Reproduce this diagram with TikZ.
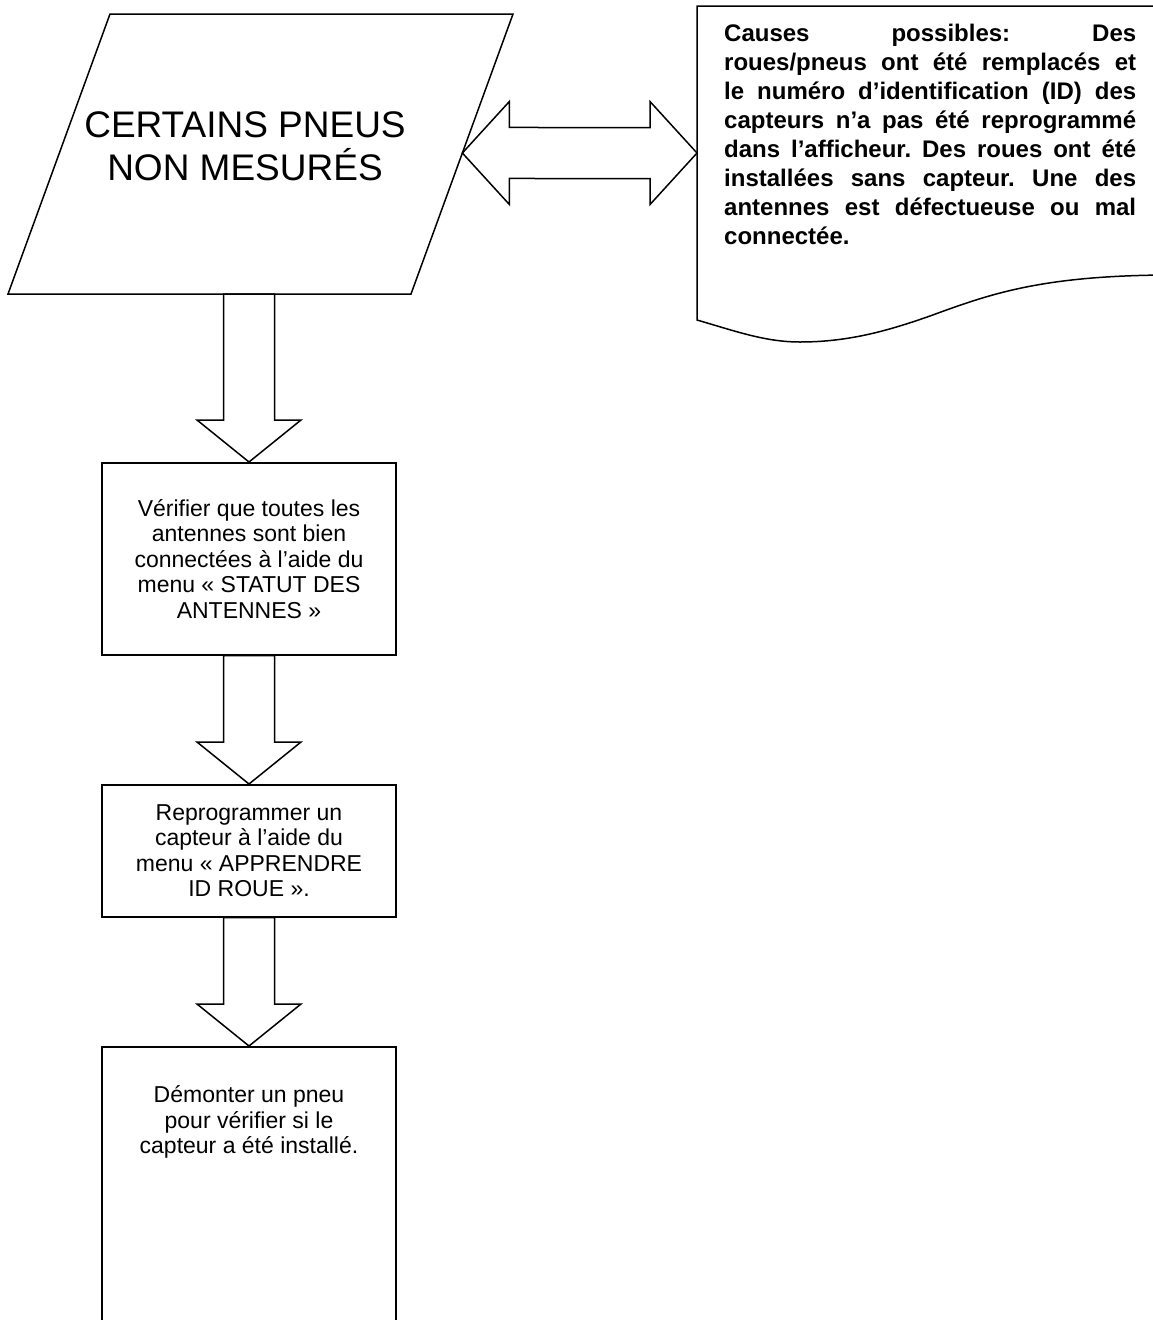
\documentclass[tikz,border=0pt]{standalone}
\usepackage{fontspec}
\setmainfont{Liberation Sans}
\usetikzlibrary{calc}
\frenchspacing
\tikzset{
  outline/.style={draw=black, line width=1.5pt, line join=miter},
  stepbox/.style={outline, rectangle, minimum width=294pt, minimum height=#1, anchor=north, inner sep=0pt},
  boxtext/.style={font=\fontsize{23}{25.5}\selectfont, align=center, inner sep=0pt},
  titletext/.style={font=\fontsize{37}{43}\selectfont, align=center, inner sep=0pt},
  causetext/.style={font=\bfseries\fontsize{24}{29}\selectfont, text width=412pt, align=justify, inner sep=0pt, anchor=north west},
}
\newcommand{\blockdown}[2]{%
  \draw[outline] let \p1=(#1), \p2=(#2) in
    (\x1-25.5pt,\y1) -- (\x1+25.5pt,\y1) -- (\x1+25.5pt,\y2+42pt) -- (\x1+52pt,\y2+42pt)
    -- (\x1,\y2) -- (\x1-52pt,\y2+42pt) -- (\x1-25.5pt,\y2+42pt) -- cycle;}
\newcommand{\blockboth}[2]{%
  \draw[outline] let \p1=(#1), \p2=(#2) in
    (\x1,\y1) -- (\x1+47pt,\y1+51.5pt) -- (\x1+47pt,\y1+25.5pt) -- (\x2-47pt,\y2+25.5pt)
    -- (\x2-47pt,\y2+51.5pt) -- (\x2,\y2) -- (\x2-47pt,\y2-51.5pt) -- (\x2-47pt,\y2-25.5pt)
    -- (\x1+47pt,\y1-25.5pt) -- (\x1+47pt,\y1-51.5pt) -- cycle;}
\begin{document}
\begin{tikzpicture}[x=1pt,y=-1pt]
\clip (0,0) rectangle (1153,1320);
\fill[white] (0,0) rectangle (1153,1320);
% parallelogram
\coordinate (pTL) at (110,14);
\coordinate (pTR) at (513,14);
\coordinate (pBR) at (411,294);
\coordinate (pBL) at (8,294);
\draw[outline] (pTL) -- (pTR) -- (pBR) -- (pBL) -- cycle;
\node[titletext] (para) at (245,146) {CERTAINS PNEUS\\NON MESURÉS};
\coordinate (paraS) at (249,294);
% document shape
\coordinate (dTL) at (697,6);
\coordinate (dBL) at (697,320);
\draw[outline] (1165,6) -- (dTL) -- (dBL)
  .. controls (735,331) and (765,342) .. (800,342)
  .. controls (850,342) and (890,330) .. (930,316)
  .. controls (990,294) and (1040,276) .. (1165,275);
\node[causetext] (cause) at (724,24) {Causes possibles: Des\linebreak
roues/pneus ont été remplacés et\linebreak
le numéro d’identification (ID) des\linebreak
capteurs n’a pas été reprogrammé\linebreak
dans l’afficheur. Des roues ont été\linebreak
installées sans capteur. Une des\linebreak
antennes est défectueuse ou mal\linebreak
connectée.};
% double arrow
\coordinate (L) at ($(pBR)!0.5036!(pTR)$);
\coordinate (R) at ($(dTL)!0.4682!(dBL)$);
\blockboth{L}{R}
% boxes
\node[stepbox=192pt, boxtext] (b1) at (249,462) {Vérifier que toutes les\\antennes sont bien\\connectées à l’aide du\\menu « STATUT DES\\ANTENNES »};
\node[stepbox=132pt, boxtext] (b2) at (249,784) {Reprogrammer un\\capteur à l’aide du\\menu « APPRENDRE\\ID ROUE ».};
\node[stepbox=320pt] (b3) at (249,1046) {};
\node[boxtext] (b3t) at (249,1122) {Démonter un pneu\\pour vérifier si le\\capteur a été installé.};
% block arrows
\blockdown{paraS}{b1.north}
\blockdown{b1.south}{b2.north}
\blockdown{b2.south}{b3.north}
\end{tikzpicture}
\end{document}
